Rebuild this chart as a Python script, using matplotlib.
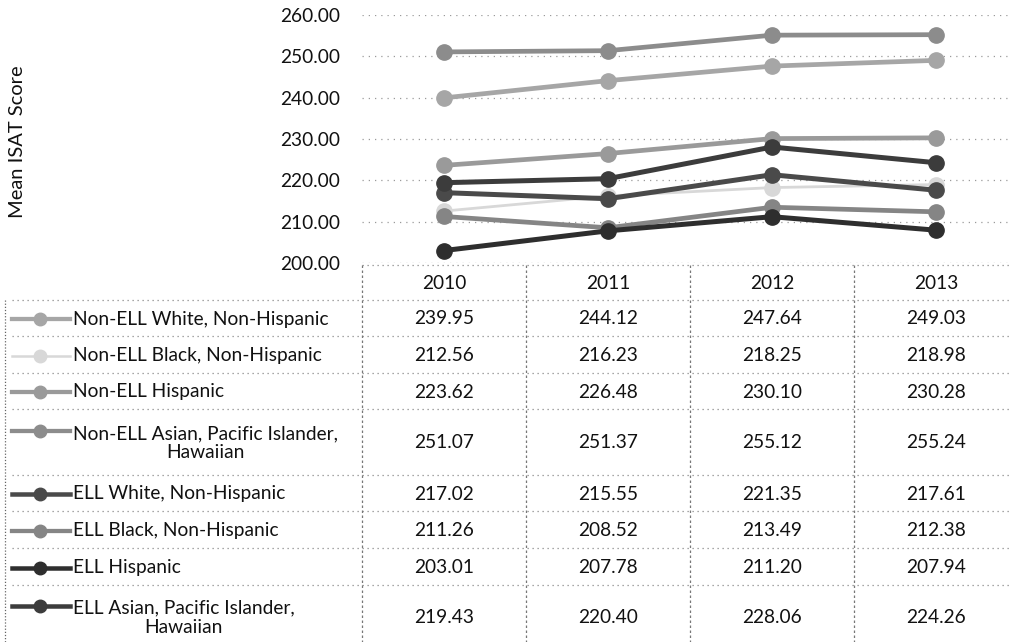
import matplotlib
matplotlib.use('Agg')
import matplotlib.pyplot as plt
import matplotlib.transforms as mtransforms
from matplotlib.lines import Line2D

years = ['2010', '2011', '2012', '2013']
series_names = [
    'Non-ELL White, Non-Hispanic',
    'Non-ELL Black, Non-Hispanic',
    'Non-ELL Hispanic',
    'Non-ELL Asian, Pacific Islander,\nHawaiian',
    'ELL White, Non-Hispanic',
    'ELL Black, Non-Hispanic',
    'ELL Hispanic',
    'ELL Asian, Pacific Islander,\nHawaiian',
]
non_ell_white = [239.95, 244.12, 247.64, 249.03]
non_ell_black = [212.56, 216.23, 218.25, 218.98]
non_ell_hispanic = [223.62, 226.48, 230.10, 230.28]
non_ell_asian = [251.07, 251.37, 255.12, 255.24]
ell_white = [217.02, 215.55, 221.35, 217.61]
ell_black = [211.26, 208.52, 213.49, 212.38]
ell_hispanic = [203.01, 207.78, 211.20, 207.94]
ell_asian = [219.43, 220.40, 228.06, 224.26]
series_values = [non_ell_white, non_ell_black, non_ell_hispanic, non_ell_asian,
                 ell_white, ell_black, ell_hispanic, ell_asian]
yticks = [200, 210, 220, 230, 240, 250, 260]

# greyscale look of the scanned print
colors = ['#a6a6a6', '#d8d8d8', '#9a9a9a', '#8c8c8c',
          '#4a4a4a', '#858585', '#2e2e2e', '#3c3c3c']
widths = [3.4, 2.0, 3.4, 3.4, 3.6, 3.4, 3.6, 3.6]
FONT = 'Lato'
FS = 13.8

W, H = 1010, 642
fig = plt.figure(figsize=(W / 100, H / 100), dpi=100)

def fy(px):
    return 1 - px / H

def fx(px):
    return px / W

ax_left, ax_top, ax_bottom = 362, 15, 263
col_w = 164
ax = fig.add_axes([fx(ax_left), fy(ax_bottom), fx(W - ax_left), (ax_bottom - ax_top) / H])
ax.set_xlim(-0.5, -0.5 + (W - ax_left) / col_w)
ax.set_ylim(200, 260)

xs = list(range(len(years)))
# draw in an order so dark lines sit on top like the original
order = [1, 0, 3, 2, 5, 7, 4, 6]
for i in order:
    ax.plot(xs, series_values[i], color=colors[i], lw=widths[i], marker='o',
            markersize=11, markerfacecolor=colors[i], markeredgecolor=colors[i],
            zorder=3 + i)

ax.set_yticks(yticks)
ax.set_yticklabels([f'{v:.2f}' for v in yticks], fontsize=FS,
                   family=FONT, color='#111111')
ax.set_xticks([])
ax.tick_params(axis='y', length=0, pad=16)
for s in ax.spines.values():
    s.set_visible(False)
ax.grid(axis='y', color='#9a9a9a', linestyle=(0, (1, 4)), lw=0.9)
ax.set_axisbelow(True)

fig.text(fx(18), fy(142), 'Mean ISAT Score', rotation=90, ha='center', va='center',
         fontsize=14.5, family=FONT, color='#111111')

# data table under the chart
bt = mtransforms.blended_transform_factory(ax.transData, fig.transFigure)
row_edges = [300, 336, 373, 409, 475, 511, 548, 585, 648]
header_top = 265
grid_kw = dict(color='#8a8a8a', lw=0.9, linestyle=(0, (1, 3)))

for j, yr in enumerate(years):
    ax.text(j, fy((header_top + row_edges[0]) / 2 + 1), yr, transform=bt,
            ha='center', va='center', fontsize=FS, family=FONT, color='#111111')

fig.add_artist(Line2D([fx(ax_left), 1], [fy(header_top)] * 2, transform=fig.transFigure, **grid_kw))
for e in row_edges[:-1]:
    fig.add_artist(Line2D([fx(12), 1], [fy(e)] * 2, transform=fig.transFigure, **grid_kw))
fig.add_artist(Line2D([fx(5), fx(5)], [fy(row_edges[0]), 0], transform=fig.transFigure,
                      color='#666666', lw=0.9, linestyle=(0, (1, 1.5))))
for k in range(len(years)):
    xb = fx(ax_left + k * col_w)
    fig.add_artist(Line2D([xb, xb], [fy(header_top), 0], transform=fig.transFigure,
                          color='#777777', lw=0.9, linestyle=(0, (2, 2))))

for i, name in enumerate(series_names):
    yc = fy((row_edges[i] + row_edges[i + 1]) / 2 + 1)
    two = '\n' in name
    key_y = yc + (12 / H if two else 0)
    fig.add_artist(Line2D([fx(12), fx(40), fx(70)], [key_y] * 3, transform=fig.transFigure,
                          color=colors[i], lw=widths[i] * 0.9, marker='o',
                          markevery=[1], markersize=9,
                          markerfacecolor=colors[i], markeredgecolor=colors[i]))
    fig.text(fx(73), yc, name, ha='left', va='center', multialignment='center',
             fontsize=FS, family=FONT, color='#111111', linespacing=1.15)
    for j, v in enumerate(series_values[i]):
        ax.text(j, yc, f'{v:.2f}', transform=bt, ha='center', va='center',
                fontsize=FS, family=FONT, color='#111111')

fig.savefig('out.png', dpi=100)
